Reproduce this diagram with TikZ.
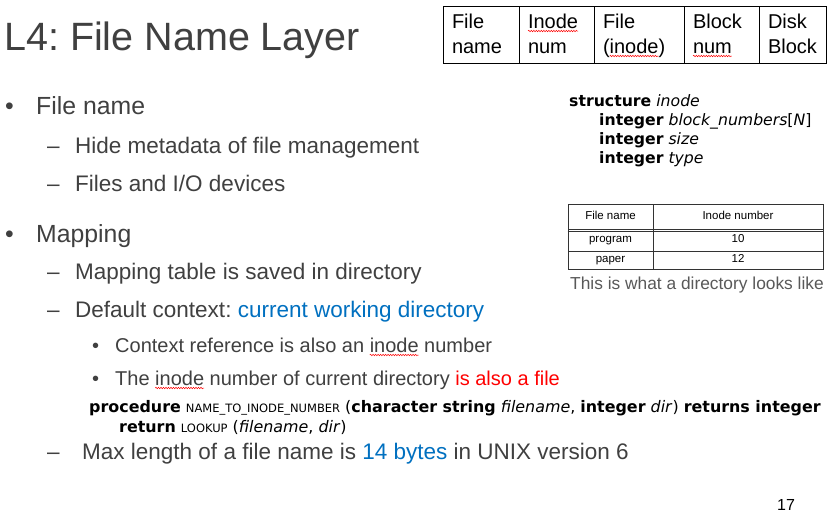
\documentclass[tikz,border=0pt]{standalone}
\usepackage{fontspec}
\setmainfont{Liberation Sans}
\newfontfamily\codefont{DejaVu Sans}
\usetikzlibrary{decorations.pathmorphing}
\frenchspacing

\definecolor{slidegray}{HTML}{404040}
\definecolor{linkblue}{HTML}{0070C0}
\definecolor{capgray}{HTML}{595959}

\newlength{\squigwd}
\newcommand{\squig}[1]{\leavevmode\settowidth{\squigwd}{#1}\rlap{\tikz[baseline=0pt, overlay]{\draw[red, line width=0.5pt, decorate, decoration={snake, amplitude=0.7pt, segment length=2.5pt}] (0pt,-3pt) -- (\squigwd,-3pt);}}#1}
\newcommand{\fakesc}[1]{{\fontsize{11.5}{12}\selectfont #1}}
\newcommand{\cellrows}[2]{\rule{0pt}{18.5pt}#1\\\rule[-6.5pt]{0pt}{6.5pt}#2}

\tikzset{
	title/.style={anchor=base west, inner sep=0pt, text=slidegray, font=\fontsize{39.5}{40}\selectfont},
	lvlone/.style={anchor=base west, inner sep=0pt, text=slidegray, font=\fontsize{24.8}{30}\selectfont},
	lvltwo/.style={anchor=base west, inner sep=0pt, text=slidegray, font=\fontsize{22.5}{27}\selectfont},
	lvlthree/.style={anchor=base west, inner sep=0pt, text=slidegray, font=\fontsize{20}{24}\selectfont},
	cell/.style={draw=black, line width=1pt, minimum height=57pt, inner xsep=9pt, inner ysep=0pt, align=left, font=\fontsize{20}{25}\selectfont},
	dircell/.style={draw=black!80, line width=0.6pt, inner sep=0pt, text height=8pt, text depth=2.5pt, align=center, font=\fontsize{11.5}{12}\selectfont},
	code/.style={anchor=base west, inner sep=0pt, font=\codefont\fontsize{15.7}{16}\selectfont},
	proc/.style={anchor=base west, inner sep=0pt, font=\codefont\fontsize{15.9}{16}\selectfont}
}

\begin{document}
\begin{tikzpicture}[x=1pt, y=-1pt]
	\path[use as bounding box, fill=white] (0,0) rectangle (838,531);
	
	\draw (4,50) node[title] (title) {L4: File Name Layer};
	
	% layers across the top
	\draw (481,34.5) node[cell, minimum width=76pt, text width=58pt] (cfname) {\cellrows{File}{name}};
	\draw (556.5,34.5) node[cell, minimum width=75pt, text width=57pt] (cinum) {\cellrows{\squig{Inode}}{num}};
	\draw (639,34.5) node[cell, minimum width=90pt, text width=72pt] (cfile) {\cellrows{File}{(\squig{inode})}};
	\draw (721.5,34.5) node[cell, minimum width=75pt, text width=57pt] (cbnum) {\cellrows{Block}{\squig{num}}};
	\draw (792.5,34.5) node[cell, minimum width=67pt, text width=49pt] (cdisk) {\cellrows{Disk}{Block}};
	
	% bullets
	\draw (5,114) node[lvlone] (bfile) {•};
	\draw (36,114) node[lvlone] (tfile) {File name};
	\draw (47,153) node[lvltwo] (dhide) {–};
	\draw (75,153) node[lvltwo] (thide) {Hide metadata of file management};
	\draw (47,191) node[lvltwo] (ddev) {–};
	\draw (75,191) node[lvltwo] (tdev) {Files and I/O devices};
	
	\draw (5,242) node[lvlone] (bmap) {•};
	\draw (36,242) node[lvlone] (tmap) {Mapping};
	\draw (47,279) node[lvltwo] (dtable) {–};
	\draw (75,279) node[lvltwo] (ttable) {Mapping table is saved in directory};
	\draw (47,317) node[lvltwo] (dcontext) {–};
	\draw (75,317) node[lvltwo] (tcontext) {Default context: \textcolor{linkblue}{current working directory}};
	\draw (92,352) node[lvlthree] (bref) {•};
	\draw (115,352) node[lvlthree] (tref) {Context reference is also an \squig{inode} number};
	\draw (92,385) node[lvlthree] (bcur) {•};
	\draw (115,385) node[lvlthree] (tcur) {The \squig{inode} number of current directory \textcolor{red}{is also a file}};
	
	\draw (89,412) node[proc] (procline) {\textbf{procedure} \fakesc{NAME\_TO\_INODE\_NUMBER} (\textbf{character string} \textit{filename}, \textbf{integer} \textit{dir}) \textbf{returns integer}};
	\draw (119,432) node[proc] (retline) {\textbf{return} \fakesc{LOOKUP} (\textit{filename}, \textit{dir})};
	
	\draw (47,459) node[lvltwo] (dmax) {–};
	\draw (82,459) node[lvltwo] (tmax) {Max length of a file name is \textcolor{linkblue}{14 bytes} in UNIX version 6};
	
	% inode structure
	\draw (569,106) node[code] (sinode) {\textbf{structure} \textit{inode}};
	\draw (599,125) node[code] (sblocks) {\textbf{integer} \textit{block\_numbers}[\textit{N}]};
	\draw (599,144) node[code] (ssize) {\textbf{integer} \textit{size}};
	\draw (599,163) node[code] (stype) {\textbf{integer} \textit{type}};
	
	% directory table
	\draw (610.5,216.5) node[dircell, minimum width=85pt, minimum height=25pt] (hname) {File name};
	\draw (738,216.5) node[dircell, minimum width=170pt, minimum height=25pt] (hinode) {Inode number};
	\draw (610.5,240) node[dircell, minimum width=85pt, minimum height=22pt] (rprog) {program};
	\draw (738,240) node[dircell, minimum width=170pt, minimum height=22pt] (rprogn) {10};
	\draw (610.5,260) node[dircell, minimum width=85pt, minimum height=18pt] (rpaper) {paper};
	\draw (738,260) node[dircell, minimum width=170pt, minimum height=18pt] (rpapern) {12};
	\draw[draw=black!80, line width=0.6pt] ([yshift=-2.5pt]rprog.north west) -- ([yshift=-2.5pt]rprogn.north east);
	
	\draw (570,289) node[anchor=base west, inner sep=0pt, text=capgray, font=\fontsize{17.35}{18}\selectfont] (caption) {This is what a directory looks like};
	
	\draw (777,510) node[anchor=base west, inner sep=0pt, font=\fontsize{16}{16}\selectfont] (pagenum) {17};
\end{tikzpicture}
\end{document}
